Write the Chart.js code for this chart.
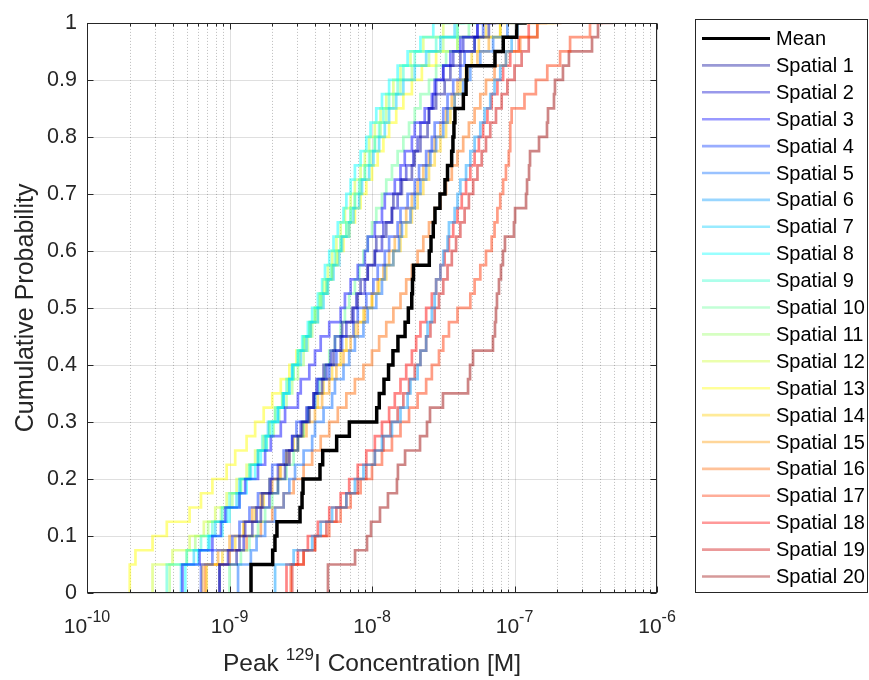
<!DOCTYPE html>
<html><head><meta charset="utf-8">
<script src="https://cdn.jsdelivr.net/npm/chart.js@4.4.1/dist/chart.umd.min.js"></script>
<style>html,body{margin:0;padding:0;background:#fff;}#wrap{width:869px;height:680px;}</style>
</head><body><div id="wrap"><canvas id="c" width="869" height="680"></canvas></div>
<script>
// ---- DATA (log10 of peak 129I concentration [M], 40 sorted samples per curve) ----
const seriesNames = ['Mean','Spatial 1','Spatial 2','Spatial 3','Spatial 4','Spatial 5','Spatial 6','Spatial 7','Spatial 8','Spatial 9','Spatial 10','Spatial 11','Spatial 12','Spatial 13','Spatial 14','Spatial 15','Spatial 16','Spatial 17','Spatial 18','Spatial 19','Spatial 20'];
const meanLog10 = [-8.849,-8.697,-8.681,-8.667,-8.505,-8.491,-8.484,-8.365,-8.346,-8.248,-8.159,-7.967,-7.949,-7.916,-7.884,-7.853,-7.818,-7.768,-7.745,-7.721,-7.716,-7.709,-7.598,-7.586,-7.570,-7.558,-7.523,-7.488,-7.470,-7.441,-7.432,-7.425,-7.418,-7.359,-7.340,-7.335,-7.137,-7.079,-6.985,-6.914];
const spatial1 = [-9.07,-8.95,-8.93,-8.84,-8.78,-8.77,-8.66,-8.61,-8.60,-8.52,-8.49,-8.44,-8.41,-8.35,-8.34,-8.27,-8.22,-8.21,-8.14,-8.10,-8.08,-8.03,-7.98,-7.97,-7.90,-7.86,-7.85,-7.79,-7.72,-7.70,-7.66,-7.61,-7.60,-7.55,-7.49,-7.45,-7.38,-7.28,-7.18,-7.08];
const spatial2 = [-9.07,-9.01,-8.90,-8.89,-8.81,-8.72,-8.71,-8.66,-8.58,-8.56,-8.50,-8.46,-8.41,-8.39,-8.32,-8.29,-8.26,-8.18,-8.13,-8.11,-8.05,-8.03,-7.98,-7.93,-7.92,-7.86,-7.82,-7.80,-7.76,-7.71,-7.68,-7.66,-7.60,-7.57,-7.55,-7.50,-7.43,-7.36,-7.26,-7.15];
const spatial3 = [-9.33,-9.21,-9.12,-9.06,-9.03,-8.93,-8.89,-8.80,-8.75,-8.71,-8.64,-8.61,-8.52,-8.50,-8.44,-8.40,-8.36,-8.30,-8.22,-8.19,-8.15,-8.10,-8.05,-8.03,-7.98,-7.93,-7.91,-7.84,-7.80,-7.77,-7.72,-7.70,-7.63,-7.58,-7.56,-7.50,-7.45,-7.38,-7.26,-7.13];
const spatial4 = [-9.20,-9.12,-8.98,-8.93,-8.86,-8.80,-8.72,-8.70,-8.62,-8.56,-8.53,-8.45,-8.40,-8.38,-8.30,-8.25,-8.21,-8.13,-8.10,-8.04,-7.99,-7.96,-7.91,-7.88,-7.82,-7.80,-7.75,-7.70,-7.67,-7.62,-7.58,-7.56,-7.50,-7.47,-7.43,-7.38,-7.35,-7.28,-7.22,-7.18];
const spatial5 = [-8.94,-8.85,-8.81,-8.75,-8.68,-8.62,-8.58,-8.54,-8.48,-8.42,-8.40,-8.34,-8.28,-8.26,-8.20,-8.16,-8.12,-8.06,-8.03,-7.97,-7.93,-7.91,-7.85,-7.81,-7.79,-7.73,-7.70,-7.66,-7.62,-7.59,-7.55,-7.50,-7.47,-7.42,-7.36,-7.31,-7.24,-7.15,-7.05,-6.95];
const spatial6 = [-8.68,-8.55,-8.42,-8.36,-8.28,-8.18,-8.12,-8.06,-7.98,-7.93,-7.86,-7.80,-7.75,-7.73,-7.68,-7.66,-7.62,-7.61,-7.58,-7.56,-7.55,-7.52,-7.50,-7.47,-7.46,-7.42,-7.40,-7.38,-7.34,-7.31,-7.28,-7.24,-7.21,-7.17,-7.14,-7.10,-7.06,-7.02,-6.98,-6.94];
const spatial7 = [-9.34,-9.25,-9.14,-9.10,-9.02,-8.95,-8.93,-8.85,-8.80,-8.75,-8.73,-8.66,-8.62,-8.58,-8.56,-8.50,-8.46,-8.43,-8.38,-8.34,-8.31,-8.27,-8.23,-8.21,-8.16,-8.13,-8.09,-8.07,-8.02,-7.99,-7.95,-7.91,-7.88,-7.83,-7.78,-7.70,-7.62,-7.52,-7.42,-7.35];
const spatial8 = [-9.31,-9.22,-9.15,-9.05,-9.00,-8.93,-8.88,-8.82,-8.78,-8.74,-8.70,-8.66,-8.62,-8.58,-8.56,-8.52,-8.49,-8.45,-8.42,-8.38,-8.35,-8.33,-8.30,-8.27,-8.24,-8.20,-8.18,-8.15,-8.12,-8.08,-8.04,-8.01,-7.97,-7.93,-7.88,-7.82,-7.75,-7.66,-7.57,-7.45];
const spatial9 = [-9.44,-9.30,-9.20,-9.12,-9.05,-9.00,-8.92,-8.86,-8.80,-8.77,-8.72,-8.68,-8.63,-8.60,-8.55,-8.52,-8.48,-8.44,-8.40,-8.36,-8.32,-8.29,-8.26,-8.22,-8.18,-8.15,-8.12,-8.09,-8.05,-8.02,-7.98,-7.95,-7.92,-7.88,-7.82,-7.78,-7.70,-7.55,-7.40,-7.26];
const spatial10 = [-9.00,-8.92,-8.86,-8.80,-8.75,-8.70,-8.66,-8.60,-8.55,-8.52,-8.48,-8.45,-8.40,-8.37,-8.33,-8.30,-8.26,-8.22,-8.19,-8.16,-8.12,-8.09,-8.06,-8.03,-8.00,-7.97,-7.93,-7.90,-7.86,-7.82,-7.78,-7.74,-7.70,-7.66,-7.60,-7.55,-7.48,-7.40,-7.32,-7.24];
const spatial11 = [-9.42,-9.30,-9.24,-9.15,-9.06,-8.98,-8.92,-8.86,-8.80,-8.74,-8.69,-8.65,-8.60,-8.56,-8.52,-8.48,-8.45,-8.42,-8.38,-8.35,-8.31,-8.28,-8.25,-8.22,-8.18,-8.15,-8.12,-8.08,-8.05,-8.01,-7.98,-7.94,-7.90,-7.85,-7.80,-7.72,-7.60,-7.50,-7.40,-7.30];
const spatial12 = [-9.54,-9.40,-9.28,-9.18,-9.10,-9.02,-8.95,-8.88,-8.82,-8.76,-8.72,-8.68,-8.63,-8.59,-8.55,-8.51,-8.47,-8.43,-8.40,-8.37,-8.34,-8.31,-8.28,-8.25,-8.22,-8.19,-8.15,-8.12,-8.08,-8.05,-8.02,-7.98,-7.94,-7.90,-7.85,-7.80,-7.73,-7.64,-7.50,-7.37];
const spatial13 = [-9.70,-9.66,-9.54,-9.44,-9.28,-9.20,-9.12,-9.02,-8.96,-8.88,-8.82,-8.76,-8.70,-8.64,-8.58,-8.53,-8.48,-8.44,-8.40,-8.36,-8.32,-8.28,-8.24,-8.20,-8.16,-8.12,-8.08,-8.04,-8.00,-7.96,-7.92,-7.88,-7.83,-7.78,-7.72,-7.65,-7.55,-7.40,-7.10,-6.72];
const spatial14 = [-9.16,-9.05,-8.96,-8.90,-8.82,-8.76,-8.72,-8.65,-8.60,-8.55,-8.48,-8.44,-8.38,-8.34,-8.28,-8.22,-8.18,-8.12,-8.06,-8.00,-7.95,-7.90,-7.85,-7.80,-7.76,-7.72,-7.68,-7.64,-7.60,-7.56,-7.52,-7.48,-7.45,-7.42,-7.38,-7.34,-7.30,-7.25,-7.20,-7.12];
const spatial15 = [-9.19,-9.08,-9.00,-8.90,-8.84,-8.78,-8.70,-8.64,-8.58,-8.52,-8.46,-8.40,-8.35,-8.30,-8.25,-8.20,-8.15,-8.10,-8.05,-8.00,-7.96,-7.92,-7.88,-7.84,-7.80,-7.76,-7.72,-7.68,-7.64,-7.60,-7.56,-7.52,-7.48,-7.44,-7.40,-7.34,-7.26,-7.18,-7.10,-7.00];
const spatial16 = [-9.17,-9.00,-8.88,-8.78,-8.70,-8.62,-8.55,-8.48,-8.42,-8.36,-8.30,-8.24,-8.18,-8.12,-8.06,-8.00,-7.95,-7.90,-7.85,-7.80,-7.76,-7.72,-7.68,-7.64,-7.60,-7.56,-7.52,-7.48,-7.44,-7.40,-7.36,-7.32,-7.28,-7.24,-7.20,-7.14,-7.06,-6.96,-6.84,-6.67];
const spatial17 = [-8.57,-8.48,-8.40,-8.30,-8.22,-8.15,-8.08,-8.00,-7.93,-7.86,-7.80,-7.74,-7.68,-7.62,-7.58,-7.53,-7.50,-7.46,-7.40,-7.31,-7.28,-7.24,-7.20,-7.16,-7.14,-7.12,-7.10,-7.08,-7.06,-7.04,-7.03,-7.03,-7.02,-6.93,-6.85,-6.77,-6.68,-6.61,-6.47,-6.38];
const spatial18 = [-8.60,-8.52,-8.45,-8.38,-8.30,-8.22,-8.16,-8.10,-8.04,-7.98,-7.93,-7.88,-7.84,-7.80,-7.76,-7.72,-7.69,-7.66,-7.62,-7.58,-7.55,-7.52,-7.49,-7.46,-7.43,-7.40,-7.37,-7.34,-7.31,-7.28,-7.25,-7.22,-7.19,-7.16,-7.12,-7.08,-7.03,-6.97,-6.90,-6.82];
const spatial19 = [-8.56,-8.48,-8.40,-8.32,-8.25,-8.18,-8.10,-8.04,-7.98,-7.92,-7.87,-7.82,-7.78,-7.74,-7.70,-7.66,-7.62,-7.59,-7.56,-7.53,-7.50,-7.47,-7.44,-7.41,-7.38,-7.35,-7.32,-7.29,-7.26,-7.23,-7.20,-7.17,-7.13,-7.09,-7.05,-7.00,-6.95,-6.90,-6.84,-6.77];
const spatial20 = [-8.309,-8.119,-8.035,-8.007,-7.944,-7.888,-7.825,-7.818,-7.768,-7.663,-7.614,-7.593,-7.502,-7.326,-7.312,-7.291,-7.151,-7.137,-7.130,-7.123,-7.109,-7.095,-7.081,-7.067,-7.004,-6.996,-6.919,-6.912,-6.898,-6.891,-6.828,-6.772,-6.765,-6.723,-6.716,-6.660,-6.618,-6.456,-6.414,-6.309];
const spatialSeries = [spatial1,spatial2,spatial3,spatial4,spatial5,spatial6,spatial7,spatial8,spatial9,spatial10,spatial11,spatial12,spatial13,spatial14,spatial15,spatial16,spatial17,spatial18,spatial19,spatial20];
const xTickExponents = [-10,-9,-8,-7,-6];
const yTickValues = [0,0.1,0.2,0.3,0.4,0.5,0.6,0.7,0.8,0.9,1];
const yTickLabels = ['0','0.1','0.2','0.3','0.4','0.5','0.6','0.7','0.8','0.9','1'];

// ---- STYLE ----
const jet20 = [[0,0,0.6],[0,0,0.8],[0,0,1],[0,0.2,1],[0,0.4,1],[0,0.6,1],[0,0.8,1],[0,1,1],[0.2,1,0.8],[0.4,1,0.6],[0.6,1,0.4],[0.8,1,0.2],[1,1,0],[1,0.8,0],[1,0.6,0],[1,0.4,0],[1,0.2,0],[1,0,0],[0.8,0,0],[0.6,0,0]];
const ALPHA = 0.48, LEGEND_ALPHA = 0.4;
const FONT = "'Liberation Sans', Arial, Helvetica, sans-serif";
const AXC = '#262626';
const rgba = (c, a) => `rgba(${Math.round(c[0]*255)},${Math.round(c[1]*255)},${Math.round(c[2]*255)},${a})`;

function ecdfPoints(logs) {
  const n = logs.length;
  const pts = [{x: Math.pow(10, logs[0]), y: 0}];
  logs.forEach((v, i) => pts.push({x: Math.pow(10, v), y: (i + 1) / n}));
  return pts;
}

const datasets = [{
  label: seriesNames[0], data: ecdfPoints(meanLog10), borderColor: '#000000', legendColor: '#000000',
  borderWidth: 3.5, stepped: 'after', pointRadius: 0, order: 0
}];
spatialSeries.forEach((s, i) => datasets.push({
  label: seriesNames[i + 1], data: ecdfPoints(s), borderColor: rgba(jet20[i], ALPHA), legendColor: rgba(jet20[i], LEGEND_ALPHA),
  borderWidth: 2.7, stepped: 'after', pointRadius: 0, order: 1
}));

function line(ctx, x1, y1, x2, y2) { ctx.beginPath(); ctx.moveTo(x1, y1); ctx.lineTo(x2, y2); ctx.stroke(); }

const matlabAxes = {
  id: 'matlabAxes',
  beforeDatasetsDraw(chart) {
    const {ctx, chartArea: a, scales: {x, y}} = chart;
    ctx.save();
    ctx.lineWidth = 1;
    ctx.strokeStyle = 'rgba(38,38,38,0.30)';
    ctx.setLineDash([1, 2]);
    for (const e of xTickExponents.slice(0, -1)) {
      for (let m = 2; m <= 9; m++) {
        const px = Math.round(x.getPixelForValue(m * Math.pow(10, e))) + 0.5;
        line(ctx, px, a.top, px, a.bottom);
      }
    }
    ctx.setLineDash([]);
    ctx.strokeStyle = 'rgba(38,38,38,0.15)';
    for (const e of xTickExponents) {
      const px = Math.round(x.getPixelForValue(Math.pow(10, e))) + 0.5;
      line(ctx, px, a.top, px, a.bottom);
    }
    for (const v of yTickValues) {
      const py = Math.round(y.getPixelForValue(v)) + 0.5;
      line(ctx, a.left, py, a.right, py);
    }
    ctx.restore();
  },
  afterDatasetsDraw(chart) {
    const {ctx, chartArea: a, scales: {x, y}} = chart;
    ctx.save();
    ctx.strokeStyle = AXC; ctx.lineWidth = 1;
    const L = Math.round(a.left) + 0.5, R = Math.round(a.right) - 0.5, T = Math.round(a.top) + 0.5, B = Math.round(a.bottom) - 0.5;
    ctx.strokeRect(L, T, R - L, B - T);
    for (const e of xTickExponents) {
      const px = Math.round(x.getPixelForValue(Math.pow(10, e))) + 0.5;
      line(ctx, px, B, px, B - 6); line(ctx, px, T, px, T + 6);
      if (e < xTickExponents[xTickExponents.length - 1]) {
        for (let m = 2; m <= 9; m++) {
          const pm = Math.round(x.getPixelForValue(m * Math.pow(10, e))) + 0.5;
          line(ctx, pm, B, pm, B - 3); line(ctx, pm, T, pm, T + 3);
        }
      }
    }
    for (const v of yTickValues) {
      const py = Math.round(y.getPixelForValue(v)) + 0.5;
      line(ctx, L, py, L + 6, py); line(ctx, R, py, R - 6, py);
    }
    ctx.fillStyle = AXC; ctx.textBaseline = 'alphabetic';
    for (const e of xTickExponents) {
      const px = x.getPixelForValue(Math.pow(10, e));
      const base = '10', sup = String(e);
      ctx.font = `21px ${FONT}`; const wb = ctx.measureText(base).width;
      ctx.font = `16px ${FONT}`; const ws = ctx.measureText(sup).width;
      const x0 = px - (wb + ws) / 2;
      ctx.font = `21px ${FONT}`; ctx.textAlign = 'left'; ctx.fillText(base, x0, 633);
      ctx.font = `16px ${FONT}`; ctx.fillText(sup, x0 + wb, 622);
    }
    const t1 = 'Peak ', t2 = '129', t3 = 'I Concentration [M]';
    ctx.font = `24.5px ${FONT}`; const w1 = ctx.measureText(t1).width, w3 = ctx.measureText(t3).width;
    ctx.font = `17px ${FONT}`; const w2 = ctx.measureText(t2).width;
    let cx = (a.left + a.right) / 2 - (w1 + w2 + w3) / 2;
    ctx.font = `24.5px ${FONT}`; ctx.fillText(t1, cx, 671); cx += w1;
    ctx.font = `17px ${FONT}`; ctx.fillText(t2, cx, 660); cx += w2;
    ctx.font = `24.5px ${FONT}`; ctx.fillText(t3, cx, 671);
    ctx.strokeStyle = AXC; ctx.lineWidth = 1;
    ctx.strokeRect(695.5, 19.5, 172, 573);
    ctx.font = `20px ${FONT}`; ctx.textBaseline = 'middle'; ctx.fillStyle = '#000';
    chart.data.datasets.forEach((ds, i) => {
      const yy = 38.5 + i * 26.9;
      ctx.strokeStyle = ds.legendColor; ctx.lineWidth = i === 0 ? 3 : 2.6;
      line(ctx, 702, yy, 770, yy);
      ctx.fillText(ds.label, 776, yy + 1);
    });
    ctx.restore();
  }
};

new Chart(document.getElementById('c'), {
  type: 'line',
  data: {datasets},
  plugins: [matlabAxes],
  options: {
    responsive: false, animation: false, devicePixelRatio: 1,
    layout: {padding: {top: 15, right: 212, left: 0, bottom: 0}},
    plugins: {legend: {display: false}, tooltip: {enabled: false}},
    elements: {line: {tension: 0, fill: false}},
    scales: {
      x: {
        type: 'logarithmic', min: 1e-10, max: 1e-6,
        grid: {display: false, drawTicks: false}, border: {display: false},
        ticks: {display: false},
        afterFit: s => { s.height = 87; }
      },
      y: {
        type: 'linear', min: 0, max: 1,
        grid: {display: false, drawTicks: false}, border: {display: false},
        afterBuildTicks: s => { s.ticks = yTickValues.map(v => ({value: v})); },
        ticks: {
          padding: 10, color: AXC, font: {family: FONT, size: 21.5},
          callback: (v, i) => yTickLabels[i]
        },
        title: {display: true, text: 'Cumulative Probability', color: AXC, font: {family: FONT, size: 25}, padding: {top: 11, bottom: 0}},
        afterFit: s => { s.width = 87; }
      }
    }
  }
});
</script></body></html>
